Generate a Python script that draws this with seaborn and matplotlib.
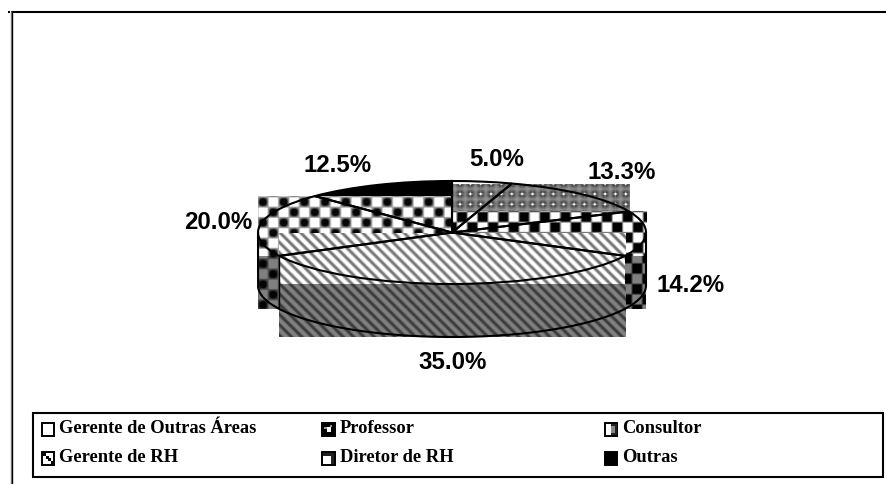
import numpy as np
import matplotlib
matplotlib.use("Agg")
import matplotlib.pyplot as plt
from matplotlib.legend_handler import HandlerBase
from matplotlib.lines import Line2D
from matplotlib.patches import Patch, Rectangle
import seaborn as sns

# clockwise from twelve o'clock
categories = ["Gerente de Outras Áreas", "Professor", "Consultor",
              "Gerente de RH", "Diretor de RH", "Outras"]
shares = [5.0, 13.3, 14.2, 35.0, 20.0, 12.5]

# layout, in reference pixels
W, H = 886, 485
CX, CY, RX, RY = 452, 233.5, 194, 51.5
DEPTH = 53
CELL = 10.3
label_pos = [(497, 160), (622, 173), (691, 286), (453, 363), (218, 223), (338, 166)]
legend_cols = [(36, ["Gerente de Outras Áreas", "Gerente de RH"]),
               (316.5, ["Professor", "Diretor de RH"]),
               (599, ["Consultor", "Outras"])]

sns.set_theme(style="white")
plt.rcParams["font.family"] = ["Liberation Sans", "DejaVu Sans"]


def to_data(x, y):
    return (x - CX) / RX, (CY - y) / RY


def squares(x, y, x0, y0):
    cx = np.cos(np.pi * (x - x0) / CELL)
    cy = np.cos(np.pi * (y - y0) / CELL)
    return cx, cy, np.clip(3 * cx, -1, 1) * np.clip(3 * cy, -1, 1)


def checker(x, y):
    _, _, p = squares(x, y, 462, 218)
    return 0.5 - 0.5 * p


def balls(x, y):
    cx, cy, p = squares(x, y, 263, 203)
    ball = np.clip(1.7 * cx * cy, 0, 1)
    return np.where(p < 0, 0.65 - 0.35 * p, 0.65 - 0.62 * ball)


def stripes(x, y):
    return np.clip(0.82 + 0.38 * np.cos(2 * np.pi * (x - y) / CELL), 0, 1)


def star(x, y):
    dx = (x - 460 + CELL / 2) % CELL - CELL / 2
    dy = (y - 195 + CELL / 2) % CELL - CELL / 2
    d = np.hypot(dx, dy)
    arms = np.exp(-(np.minimum(abs(dx), abs(dy)) / 0.8) ** 2) * np.exp(-(d / 3) ** 2)
    return np.clip(0.6 - 0.5 * np.exp(-(d / 4) ** 2) + 0.9 * np.exp(-(d / 1.2) ** 2) + 0.3 * arms, 0, 1)


def fill_box(ax, box, texture, shade=1.0, zorder=2):
    # box is (x0, y0, x1, y1) in top-left pixels
    x0, y0, x1, y1 = [int(round(v)) for v in box]
    xx, yy = np.meshgrid(np.arange(x0, x1) + 0.5, np.arange(y0, y1) + 0.5)
    left, top = to_data(x0, y0)
    right, bottom = to_data(x1, y1)
    ax.imshow(texture(xx, yy) * shade, cmap="gray", vmin=0, vmax=1, aspect="auto",
              extent=(left, right, bottom, top), interpolation="bilinear", zorder=zorder)


def wedge_box(ax, wedge):
    ext = wedge.get_window_extent(ax.figure.canvas.get_renderer())
    return ext.x0, H - ext.y1, ext.x1, H - ext.y0


def side_box(ax, wedge):
    # the wall under the part of the rim that faces the viewer
    th = np.radians(np.linspace(wedge.theta1, wedge.theta2, 721))
    th = th[np.sin(th) <= 0]
    xs = CX + RX * np.cos(th)
    bottom = CY - RY * np.sin(th).min()
    return xs.min(), bottom, xs.max(), bottom + DEPTH


fig = plt.figure(figsize=(W / 100, H / 100), dpi=100)
ax = fig.add_axes([0, 0, 1, 1])

# solid faces, hidden in part by the pattern boxes
colors = ["white", "white", "white", "white", "white", "black"]
wedges, _ = ax.pie(shares, startangle=90, counterclock=False, colors=colors,
                   wedgeprops=dict(linewidth=0, zorder=1))
_, _, pct_texts = ax.pie(shares, startangle=90, counterclock=False, autopct="%.1f%%",
                         wedgeprops=dict(fill=False, edgecolor="black", linewidth=1.5, zorder=5),
                         textprops=dict(fontsize=17.3, fontweight="bold", color="black"))
ax.set_aspect("auto")
ax.set_xlim(to_data(0, 0)[0], to_data(W, 0)[0])
ax.set_ylim(to_data(0, H)[1], to_data(0, 0)[1])
ax.set_autoscale_on(False)
fig.canvas.draw()

for text, (x, y) in zip(pct_texts, label_pos):
    text.set_position(to_data(x, y))
    text.set_ha("center")
    text.set_va("center")
    text.set_zorder(6)

by_name = dict(zip(categories, wedges))
fill_box(ax, wedge_box(ax, by_name["Professor"]), star, zorder=2.0)
fill_box(ax, wedge_box(ax, by_name["Diretor de RH"]), balls, zorder=2.1)
fill_box(ax, wedge_box(ax, by_name["Consultor"]), checker, zorder=2.2)
fill_box(ax, wedge_box(ax, by_name["Gerente de RH"]), stripes, zorder=2.3)
fill_box(ax, side_box(ax, by_name["Diretor de RH"]), balls, 0.5, zorder=2.4)
fill_box(ax, side_box(ax, by_name["Consultor"]), checker, 0.5, zorder=2.4)
fill_box(ax, side_box(ax, by_name["Gerente de RH"]), stripes, 0.5, zorder=2.4)

# rim of the lower ellipse
t = np.radians(np.linspace(180, 360, 200))
rim_x = np.concatenate([[-1], np.cos(t), [1]])
rim_y = np.concatenate([[0], np.sin(t) - DEPTH / RY, [0]])
ax.plot(rim_x, rim_y, color="black", lw=1.5, zorder=5)
edge_x = to_data(279, 0)[0]
ax.plot([edge_x, edge_x], [to_data(0, 256)[1], to_data(0, 310)[1]], color="black", lw=1, zorder=5)

# page frame
for xs, ys, lw, col in [([11, W], [12.5, 12.5], 1.5, "black"),
                        ([11.2, 11.2], [12, H], 1, "#888888"),
                        ([12, 12], [12, H], 1, "black"),
                        ([8, 10], [12.5, 12.5], 1.5, "black")]:
    fig.add_artist(Line2D([v / W for v in xs], [1 - v / H for v in ys], color=col, lw=lw,
                          solid_capstyle="butt"))


class SwatchHandler(HandlerBase):
    # small square key, inner parts given as fractions of the box
    inner = {
        "Gerente de Outras Áreas": [],
        "Professor": [(0.05, 0.05, 0.9, 0.9, "black"), (0.35, 0.3, 0.3, 0.35, "white"),
                      (0.15, 0.5, 0.2, 0.2, "#999999"), (0.6, 0.65, 0.2, 0.2, "#999999")],
        "Consultor": [(0.45, 0.05, 0.5, 0.9, "#222222"), (0.45, 0.2, 0.35, 0.6, "#888888")],
        "Gerente de RH": [(0.1, 0.68, 0.25, 0.25, "black"), (0.3, 0.48, 0.25, 0.25, "black"),
                          (0.5, 0.28, 0.25, 0.25, "black"), (0.7, 0.08, 0.22, 0.22, "black")],
        "Diretor de RH": [(0.05, 0.72, 0.9, 0.22, "#222222"), (0.65, 0.05, 0.3, 0.9, "#222222")],
        "Outras": [(0, 0, 1, 1, "black")],
    }

    def create_artists(self, legend, orig_handle, xdescent, ydescent, width, height, fontsize, trans):
        size = 9.1
        x0 = width - size
        y0 = -ydescent - 2.8
        artists = [Rectangle((x0, y0), size, size, fc="white", ec="black", lw=1.4, transform=trans)]
        for fx, fy, fw, fh, col in self.inner[orig_handle.get_label()]:
            artists.append(Rectangle((x0 + fx * size, y0 + fy * size), fw * size, fh * size,
                                     fc=col, ec="none", transform=trans))
        return artists


# legend box, one small legend per column so they sit at their own places
fig.add_artist(Rectangle((33 / W, 1 - 478 / H), 850 / W, 64 / H, fill=False, edgecolor="black",
                         linewidth=1.5, transform=fig.transFigure))
for col_x, names in legend_cols:
    fig.legend(handles=[Patch(label=name) for name in names], ncol=1, loc="lower left",
               bbox_to_anchor=(col_x / W, 1 - 466 / H),
               handler_map={Patch: SwatchHandler()},
               prop=dict(family="Liberation Serif", weight="bold", size=13.3),
               labelcolor="black", frameon=False, borderaxespad=0, borderpad=0,
               labelspacing=0.66, handlelength=1.0, handleheight=0.7, handletextpad=0.27)

fig.savefig("out.png", dpi=100)
